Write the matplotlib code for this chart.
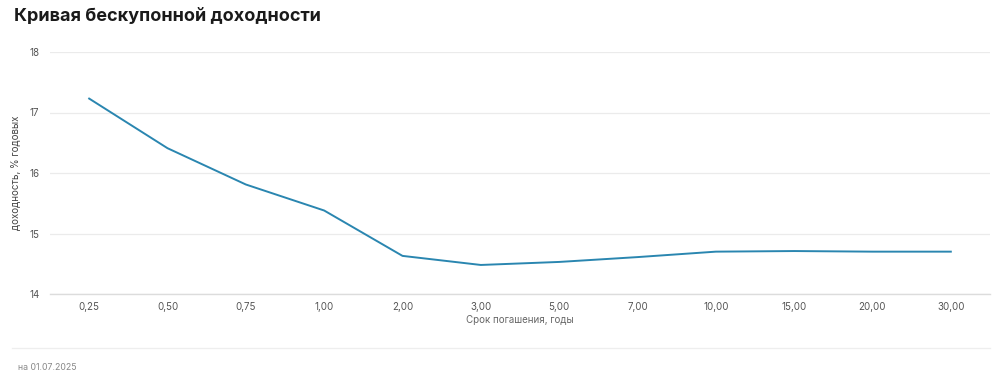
import matplotlib
matplotlib.use("Agg")
import matplotlib.pyplot as plt

maturities = ["0,25", "0,50", "0,75", "1,00", "2,00", "3,00", "5,00", "7,00", "10,00", "15,00", "20,00", "30,00"]
yields = [17.23, 16.41, 15.81, 15.38, 14.63, 14.48, 14.53, 14.61, 14.70, 14.71, 14.70, 14.70]
y_ticks = [14, 15, 16, 17, 18]

title = "Кривая бескупонной доходности"
x_label = "Срок погашения, годы"
y_label = "доходность, % годовых"
footer = "на 01.07.2025"

plt.rcParams['font.family'] = ['Inter', 'DejaVu Sans']

fig = plt.figure(figsize=(10, 3.77), dpi=100)
ax = fig.add_axes([0.05, 1 - 294/377, 0.94, (294 - 52)/377])

xs = list(range(len(maturities)))
ax.plot(xs, yields, color='#2a86b0', linewidth=1.4, solid_joinstyle='round')
ax.set_xlim(-0.5, len(maturities) - 0.5)
ax.set_ylim(14, 18)
ax.set_xticks(xs)
ax.set_xticklabels(maturities)
ax.set_yticks(y_ticks)
ax.set_yticklabels([str(t) for t in y_ticks])
ax.grid(axis='y', color='#ebebeb', linewidth=0.9)
ax.set_axisbelow(True)
for s in ['top', 'right', 'left']:
    ax.spines[s].set_visible(False)
ax.spines['bottom'].set_color('#dcdcdc')
ax.spines['bottom'].set_linewidth(1.0)
ax.tick_params(axis='both', length=0, labelsize=7, labelcolor='#555555')
ax.tick_params(axis='x', pad=6)
for lab in ax.get_yticklabels():
    lab.set_horizontalalignment('left')
ax.yaxis.set_tick_params(pad=14.4)
ax.set_xlabel(x_label, fontsize=7, color='#666666', labelpad=2)
ax.set_ylabel(y_label, fontsize=7, color='#444444')
ax.yaxis.set_label_coords(-0.031, 0.5)

fig.text(0.014, 1 - 16/377, title, fontsize=13, fontweight='bold', color='#1a1a1a', va='center', ha='left')
fig.add_artist(plt.Line2D([0.012, 0.99], [1 - 348/377, 1 - 348/377], color='#eeeeee', linewidth=0.9))
fig.text(0.018, 1 - 367/377, footer, fontsize=6.3, color='#888888', va='center', ha='left')

fig.savefig("out.png", dpi=100, facecolor='white')
